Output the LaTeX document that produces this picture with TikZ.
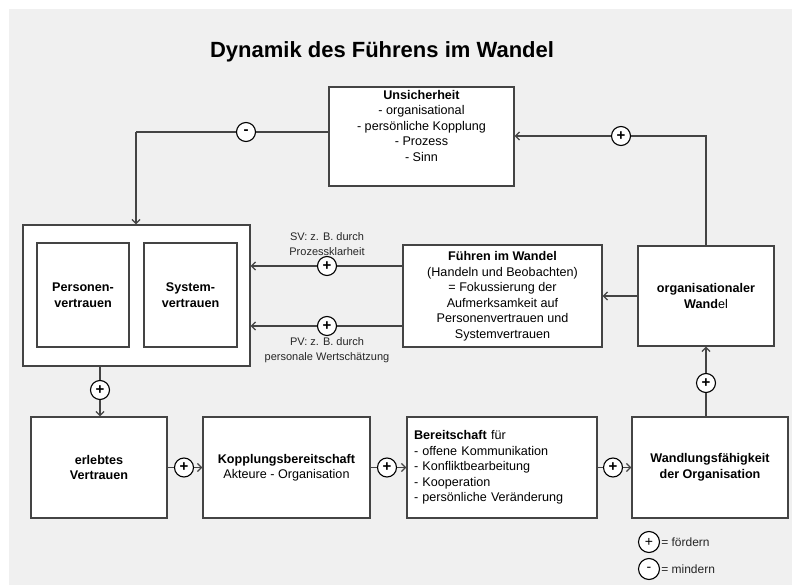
\documentclass[tikz,border=0pt]{standalone}
\usepackage{fontspec}
\setmainfont{Liberation Sans}
\usetikzlibrary{arrows.meta}
\definecolor{bggray}{HTML}{F0F0F0}
\definecolor{linegray}{HTML}{444444}
\tikzset{
  box/.style={draw=linegray, line width=1.3pt, fill=white, align=center, inner sep=3pt,
    font=\fontsize{12.6}{15.5}\selectfont},
  conn/.style={draw=linegray, line width=1.3pt},
  arr/.style={conn, -{Straight Barb[length=4pt,width=8pt]}},
  pm/.style={draw=black, circle, line width=1.1pt, fill=white, minimum size=19pt, inner sep=0pt,
    font=\fontsize{15}{15}\selectfont\bfseries},
  small/.style={align=center, font=\fontsize{11}{15}\selectfont, text=black!85}
}
\begin{document}
\begin{tikzpicture}[x=1pt,y=-1pt]
  \useasboundingbox (0,0) rectangle (792,585);
  \fill[bggray] (9,9) rectangle (792,585);

  \node[font=\fontsize{22}{26}\selectfont\bfseries] (title) at (382,52) {Dynamik des Führens im Wandel};

  \node[box, minimum width=185pt, minimum height=99pt] (unsich) at (421.5,136.5)
    {\textbf{Unsicherheit}\\- organisational\\- persönliche Kopplung\\- Prozess\\- Sinn\\[6pt]};

  \node[box, minimum width=227pt, minimum height=141pt] (vertrauen) at (136.5,295.5) {};
  \node[box, minimum width=92pt, minimum height=104pt] (person) at (83,295) {\textbf{Personen-}\\\textbf{vertrauen}};
  \node[box, minimum width=93pt, minimum height=104pt] (system) at (190.5,295) {\textbf{System-}\\\textbf{vertrauen}};

  \node[box, minimum width=199pt, minimum height=102pt] (fuehren) at (502.5,296)
    {\textbf{Führen im Wandel}\\(Handeln und Beobachten)\\= Fokussierung der\\Aufmerksamkeit auf\\Personenvertrauen und\\Systemvertrauen};
  \node[box, minimum width=136pt, minimum height=100pt] (orgwandel) at (706,296)
    {\textbf{organisationaler}\\\textbf{Wand}el};

  \node[box, minimum width=136pt, minimum height=101pt] (erlebt) at (99,467.5) {\textbf{erlebtes}\\\textbf{Vertrauen}};
  \node[box, minimum width=167pt, minimum height=101pt] (kopplung) at (286.5,467.5)
    {\textbf{Kopplungsbereitschaft}\\Akteure - Organisation};
  \node[box, minimum width=190pt, minimum height=101pt, align=left, text width=176pt] (bereit) at (502,467.5)
    {\textbf{Bereitschaft} für\\- offene Kommunikation\\- Konfliktbearbeitung\\- Kooperation\\- persönliche Veränderung};
  \node[box, minimum width=156pt, minimum height=101pt] (wandlung) at (710,467.5)
    {\textbf{Wandlungsfähigkeit}\\\textbf{der Organisation}};

  % Unsicherheit -> Vertrauen
  \coordinate (k1) at (136,132);
  \node[pm] (m1) at (246,132) {-};
  \draw[conn] (unsich.west |- k1) -- (m1) -- (k1);
  \draw[arr] (k1) -- (k1 |- vertrauen.north);

  % organisationaler Wandel -> Unsicherheit
  \node[pm] (p1) at (621,136) {+};
  \coordinate (k2) at (orgwandel.north |- p1);
  \draw[conn] (orgwandel.north) -- (k2) -- (p1);
  \draw[arr] (p1) -- (unsich.east |- p1);

  % Fuehren -> Vertrauen
  \node[pm] (p2) at (327,266) {+};
  \node[pm] (p3) at (327,326) {+};
  \draw[conn] (fuehren.west |- p2) -- (p2);
  \draw[arr] (p2) -- (vertrauen.east |- p2);
  \draw[conn] (fuehren.west |- p3) -- (p3);
  \draw[arr] (p3) -- (vertrauen.east |- p3);
  \node[small] (sv) at (327,244) {SV: z. B. durch\\Prozessklarheit};
  \node[small] (pv) at (327,350) {PV: z. B. durch\\personale Wertschätzung};

  \draw[arr] (orgwandel.west) -- (fuehren.east |- orgwandel.west);

  % untere Reihe
  \node[pm] (p4) at (100,390) {+};
  \draw[conn] (p4 |- vertrauen.south) -- (p4);
  \draw[arr] (p4) -- (p4 |- erlebt.north);

  \node[pm] (p5) at (184,467.5) {+};
  \node[pm] (p6) at (387,467.5) {+};
  \node[pm] (p7) at (613,467.5) {+};
  \draw[conn] (erlebt.east) -- (p5);
  \draw[arr] (p5) -- (kopplung.west);
  \draw[conn] (kopplung.east) -- (p6);
  \draw[arr] (p6) -- (bereit.west);
  \draw[conn] (bereit.east) -- (p7);
  \draw[arr] (p7) -- (wandlung.west);

  \node[pm] (p8) at (706,383) {+};
  \draw[conn] (p8 |- wandlung.north) -- (p8);
  \draw[arr] (p8) -- (p8 |- orgwandel.south);

  % Legende
  \node[pm, minimum size=21pt, font=\fontsize{14}{14}\selectfont] (lp) at (649,542) {+};
  \node[small, anchor=west, inner sep=1pt, font=\fontsize{12}{14}\selectfont] (lpt) at (lp.east) {= fördern};
  \node[pm, minimum size=21pt, font=\fontsize{14}{14}\selectfont] (lm) at (649,569) {-};
  \node[small, anchor=west, inner sep=1pt, font=\fontsize{12}{14}\selectfont] (lmt) at (lm.east) {= mindern};
\end{tikzpicture}
\end{document}
